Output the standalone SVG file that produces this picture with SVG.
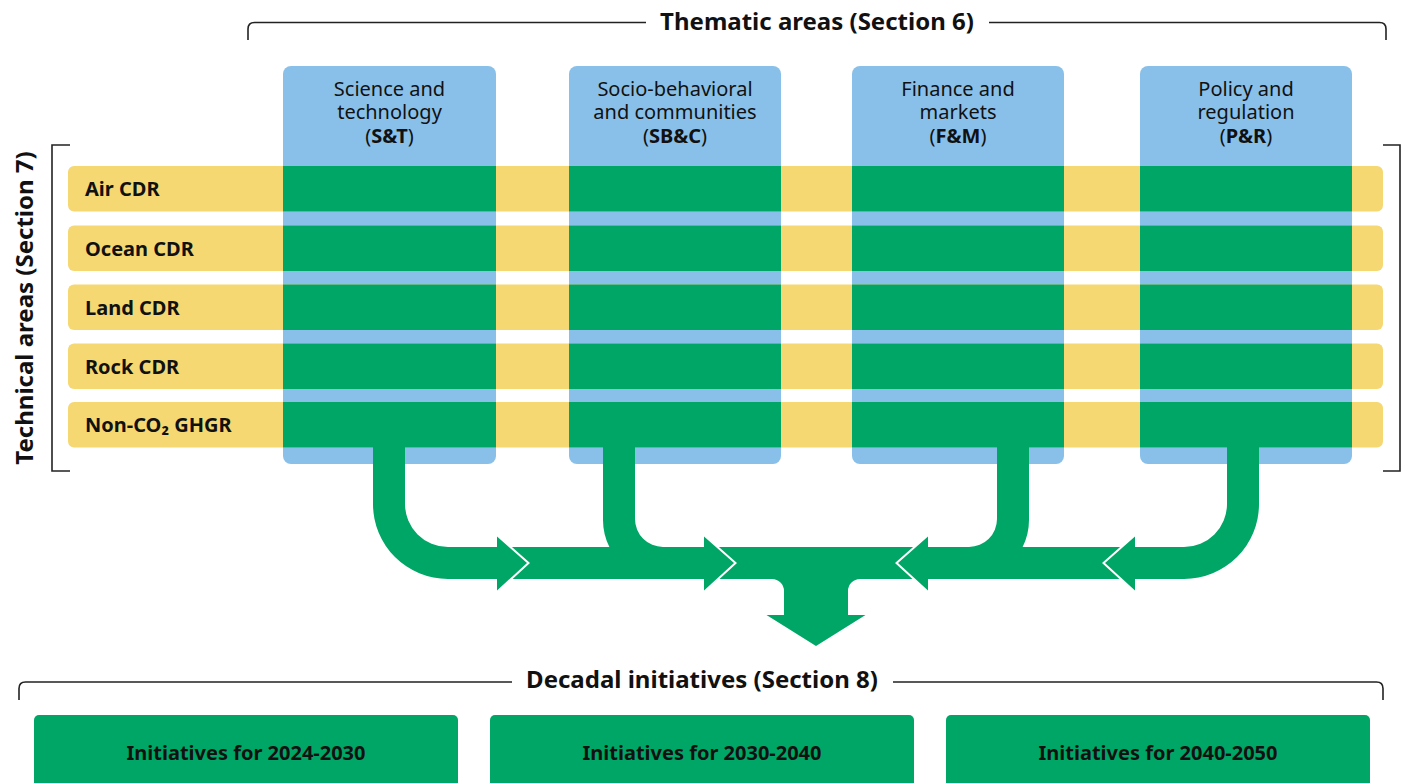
<svg xmlns="http://www.w3.org/2000/svg" width="1403" height="783" viewBox="0 0 1403 783">
  <defs>
    <style>
      text { font-family: "Noto Sans", "Open Sans", "DejaVu Sans", sans-serif; fill: #111; }
      .title { font-size: 24px; font-weight: 700; text-anchor: middle; }
      .head { font-size: 20px; font-weight: 400; text-anchor: middle; }
      .row-label { font-size: 20px; font-weight: 700; }
      .box-label { font-size: 20px; font-weight: 700; text-anchor: middle; }
      .b { font-weight: 700; }
      .bracket { fill: none; stroke: #222; stroke-width: 1.6; }
      .col { fill: #89C0E9; }
      .row { fill: #F5D872; }
      .cell { fill: #00A665; }
      .flow { fill: #00A665; }
      .chevron { fill: none; stroke: #fff; stroke-width: 4; stroke-linejoin: miter; }
      .decade { fill: #00A665; }
    </style>
  </defs>
  <rect width="1403" height="783" fill="#fff"/>

  <!-- Section brackets and titles -->
  <g id="thematic-title">
    <path class="bracket" d="M248,40 V29 Q248,22.5 254.5,22.5 H646 M989,22.5 H1379.5 Q1386,22.5 1386,29 V40"/>
    <text class="title" x="817" y="30">Thematic areas (Section 6)</text>
  </g>
  <g id="technical-title">
    <path class="bracket" d="M70,145 H52 V471 H70 M1383,145 H1400 V471 H1383"/>
    <text class="title" transform="translate(33,308) rotate(-90)">Technical areas (Section 7)</text>
  </g>
  <g id="decadal-title">
    <path class="bracket" d="M19,700 V688.5 Q19,682 25.5,682 H512 M893,682 H1376.5 Q1383,682 1383,688.5 V700"/>
    <text class="title" x="702" y="688">Decadal initiatives (Section 8)</text>
  </g>

  <!-- Thematic columns -->
  <g id="col-st">
    <rect class="col" x="283" y="66" width="213" height="398" rx="8"/>
  </g>
  <g id="col-sbc">
    <rect class="col" x="569" y="66" width="212" height="398" rx="8"/>
  </g>
  <g id="col-fm">
    <rect class="col" x="852" y="66" width="212" height="398" rx="8"/>
  </g>
  <g id="col-pr">
    <rect class="col" x="1140" y="66" width="212" height="398" rx="8"/>
  </g>

  <!-- Technical rows -->
  <g id="row-air">
    <rect class="row" x="68" y="166" width="1315" height="45.5" rx="6"/>
    <text class="row-label" x="85" y="196">Air CDR</text>
  </g>
  <g id="row-ocean">
    <rect class="row" x="68" y="225.5" width="1315" height="45.5" rx="6"/>
    <text class="row-label" x="85" y="255.5">Ocean CDR</text>
  </g>
  <g id="row-land">
    <rect class="row" x="68" y="284.5" width="1315" height="45.5" rx="6"/>
    <text class="row-label" x="85" y="314.5">Land CDR</text>
  </g>
  <g id="row-rock">
    <rect class="row" x="68" y="343.5" width="1315" height="45.5" rx="6"/>
    <text class="row-label" x="85" y="373.5">Rock CDR</text>
  </g>
  <g id="row-ghgr">
    <rect class="row" x="68" y="402" width="1315" height="45.5" rx="6"/>
    <text class="row-label" x="85" y="432">Non-CO₂ GHGR</text>
  </g>

  <!-- Intersections of rows and columns -->
  <g id="cells">
    <rect class="cell" x="283" y="166" width="213" height="45.5"/>
    <rect class="cell" x="569" y="166" width="212" height="45.5"/>
    <rect class="cell" x="852" y="166" width="212" height="45.5"/>
    <rect class="cell" x="1140" y="166" width="212" height="45.5"/>
    <rect class="cell" x="283" y="225.5" width="213" height="45.5"/>
    <rect class="cell" x="569" y="225.5" width="212" height="45.5"/>
    <rect class="cell" x="852" y="225.5" width="212" height="45.5"/>
    <rect class="cell" x="1140" y="225.5" width="212" height="45.5"/>
    <rect class="cell" x="283" y="284.5" width="213" height="45.5"/>
    <rect class="cell" x="569" y="284.5" width="212" height="45.5"/>
    <rect class="cell" x="852" y="284.5" width="212" height="45.5"/>
    <rect class="cell" x="1140" y="284.5" width="212" height="45.5"/>
    <rect class="cell" x="283" y="343.5" width="213" height="45.5"/>
    <rect class="cell" x="569" y="343.5" width="212" height="45.5"/>
    <rect class="cell" x="852" y="343.5" width="212" height="45.5"/>
    <rect class="cell" x="1140" y="343.5" width="212" height="45.5"/>
    <rect class="cell" x="283" y="402" width="213" height="45.5"/>
    <rect class="cell" x="569" y="402" width="212" height="45.5"/>
    <rect class="cell" x="852" y="402" width="212" height="45.5"/>
    <rect class="cell" x="1140" y="402" width="212" height="45.5"/>
  </g>

  <!-- Column headings -->
  <g id="head-st">
    <text class="head"><tspan x="389.5" y="95.5">Science and</tspan><tspan x="389.5" y="119">technology</tspan><tspan x="389.5" y="142.5">(<tspan class="b">S&amp;T</tspan>)</tspan></text>
  </g>
  <g id="head-sbc">
    <text class="head"><tspan x="675" y="95.5">Socio-behavioral</tspan><tspan x="675" y="119">and communities</tspan><tspan x="675" y="142.5">(<tspan class="b">SB&amp;C</tspan>)</tspan></text>
  </g>
  <g id="head-fm">
    <text class="head"><tspan x="958" y="95.5">Finance and</tspan><tspan x="958" y="119">markets</tspan><tspan x="958" y="142.5">(<tspan class="b">F&amp;M</tspan>)</tspan></text>
  </g>
  <g id="head-pr">
    <text class="head"><tspan x="1246" y="95.5">Policy and</tspan><tspan x="1246" y="119">regulation</tspan><tspan x="1246" y="142.5">(<tspan class="b">P&amp;R</tspan>)</tspan></text>
  </g>

  <!-- Flow connectors merging into the decadal initiatives -->
  <g id="connectors">
    <!-- central band with downward arrow -->
    <path class="flow" d="M708,547 H924 V579 H860 A12,12 0 0 0 848,591 V615 H865.5 L816,646 L766.5,615 H784 V591 A12,12 0 0 0 772,579 H708 Z"/>
    <!-- left half -->
    <g id="flow-left">
      <polyline class="chevron" points="704,536.5 734,563 704,590.5"/>
      <path class="flow" d="M603,440 H635 V519 A28,28 0 0 0 663,547 H704 V536.5 L734,563 L704,590.5 V579 H501 V547 H609.4 A60,60 0 0 1 603,520 Z"/>
      <polyline class="chevron" points="497,536.5 527,563 497,590.5"/>
      <path class="flow" d="M373,440 H405 V504 A43,43 0 0 0 448,547 H497 V536.5 L527,563 L497,590.5 V579 H448 A75,75 0 0 1 373,504 Z"/>
    </g>
    <!-- right half, mirrored about x = 816 -->
    <g id="flow-right" transform="translate(1632,0) scale(-1,1)">
      <polyline class="chevron" points="704,536.5 734,563 704,590.5"/>
      <path class="flow" d="M603,440 H635 V519 A28,28 0 0 0 663,547 H704 V536.5 L734,563 L704,590.5 V579 H501 V547 H609.4 A60,60 0 0 1 603,520 Z"/>
      <polyline class="chevron" points="497,536.5 527,563 497,590.5"/>
      <path class="flow" d="M373,440 H405 V504 A43,43 0 0 0 448,547 H497 V536.5 L527,563 L497,590.5 V579 H448 A75,75 0 0 1 373,504 Z"/>
    </g>
  </g>

  <!-- Decadal initiative boxes -->
  <g id="decade-2024">
    <rect class="decade" x="34" y="715" width="424" height="80" rx="5"/>
    <text class="box-label" x="246" y="760">Initiatives for 2024-2030</text>
  </g>
  <g id="decade-2030">
    <rect class="decade" x="490" y="715" width="424" height="80" rx="5"/>
    <text class="box-label" x="702" y="760">Initiatives for 2030-2040</text>
  </g>
  <g id="decade-2040">
    <rect class="decade" x="946" y="715" width="424" height="80" rx="5"/>
    <text class="box-label" x="1158" y="760">Initiatives for 2040-2050</text>
  </g>
</svg>
